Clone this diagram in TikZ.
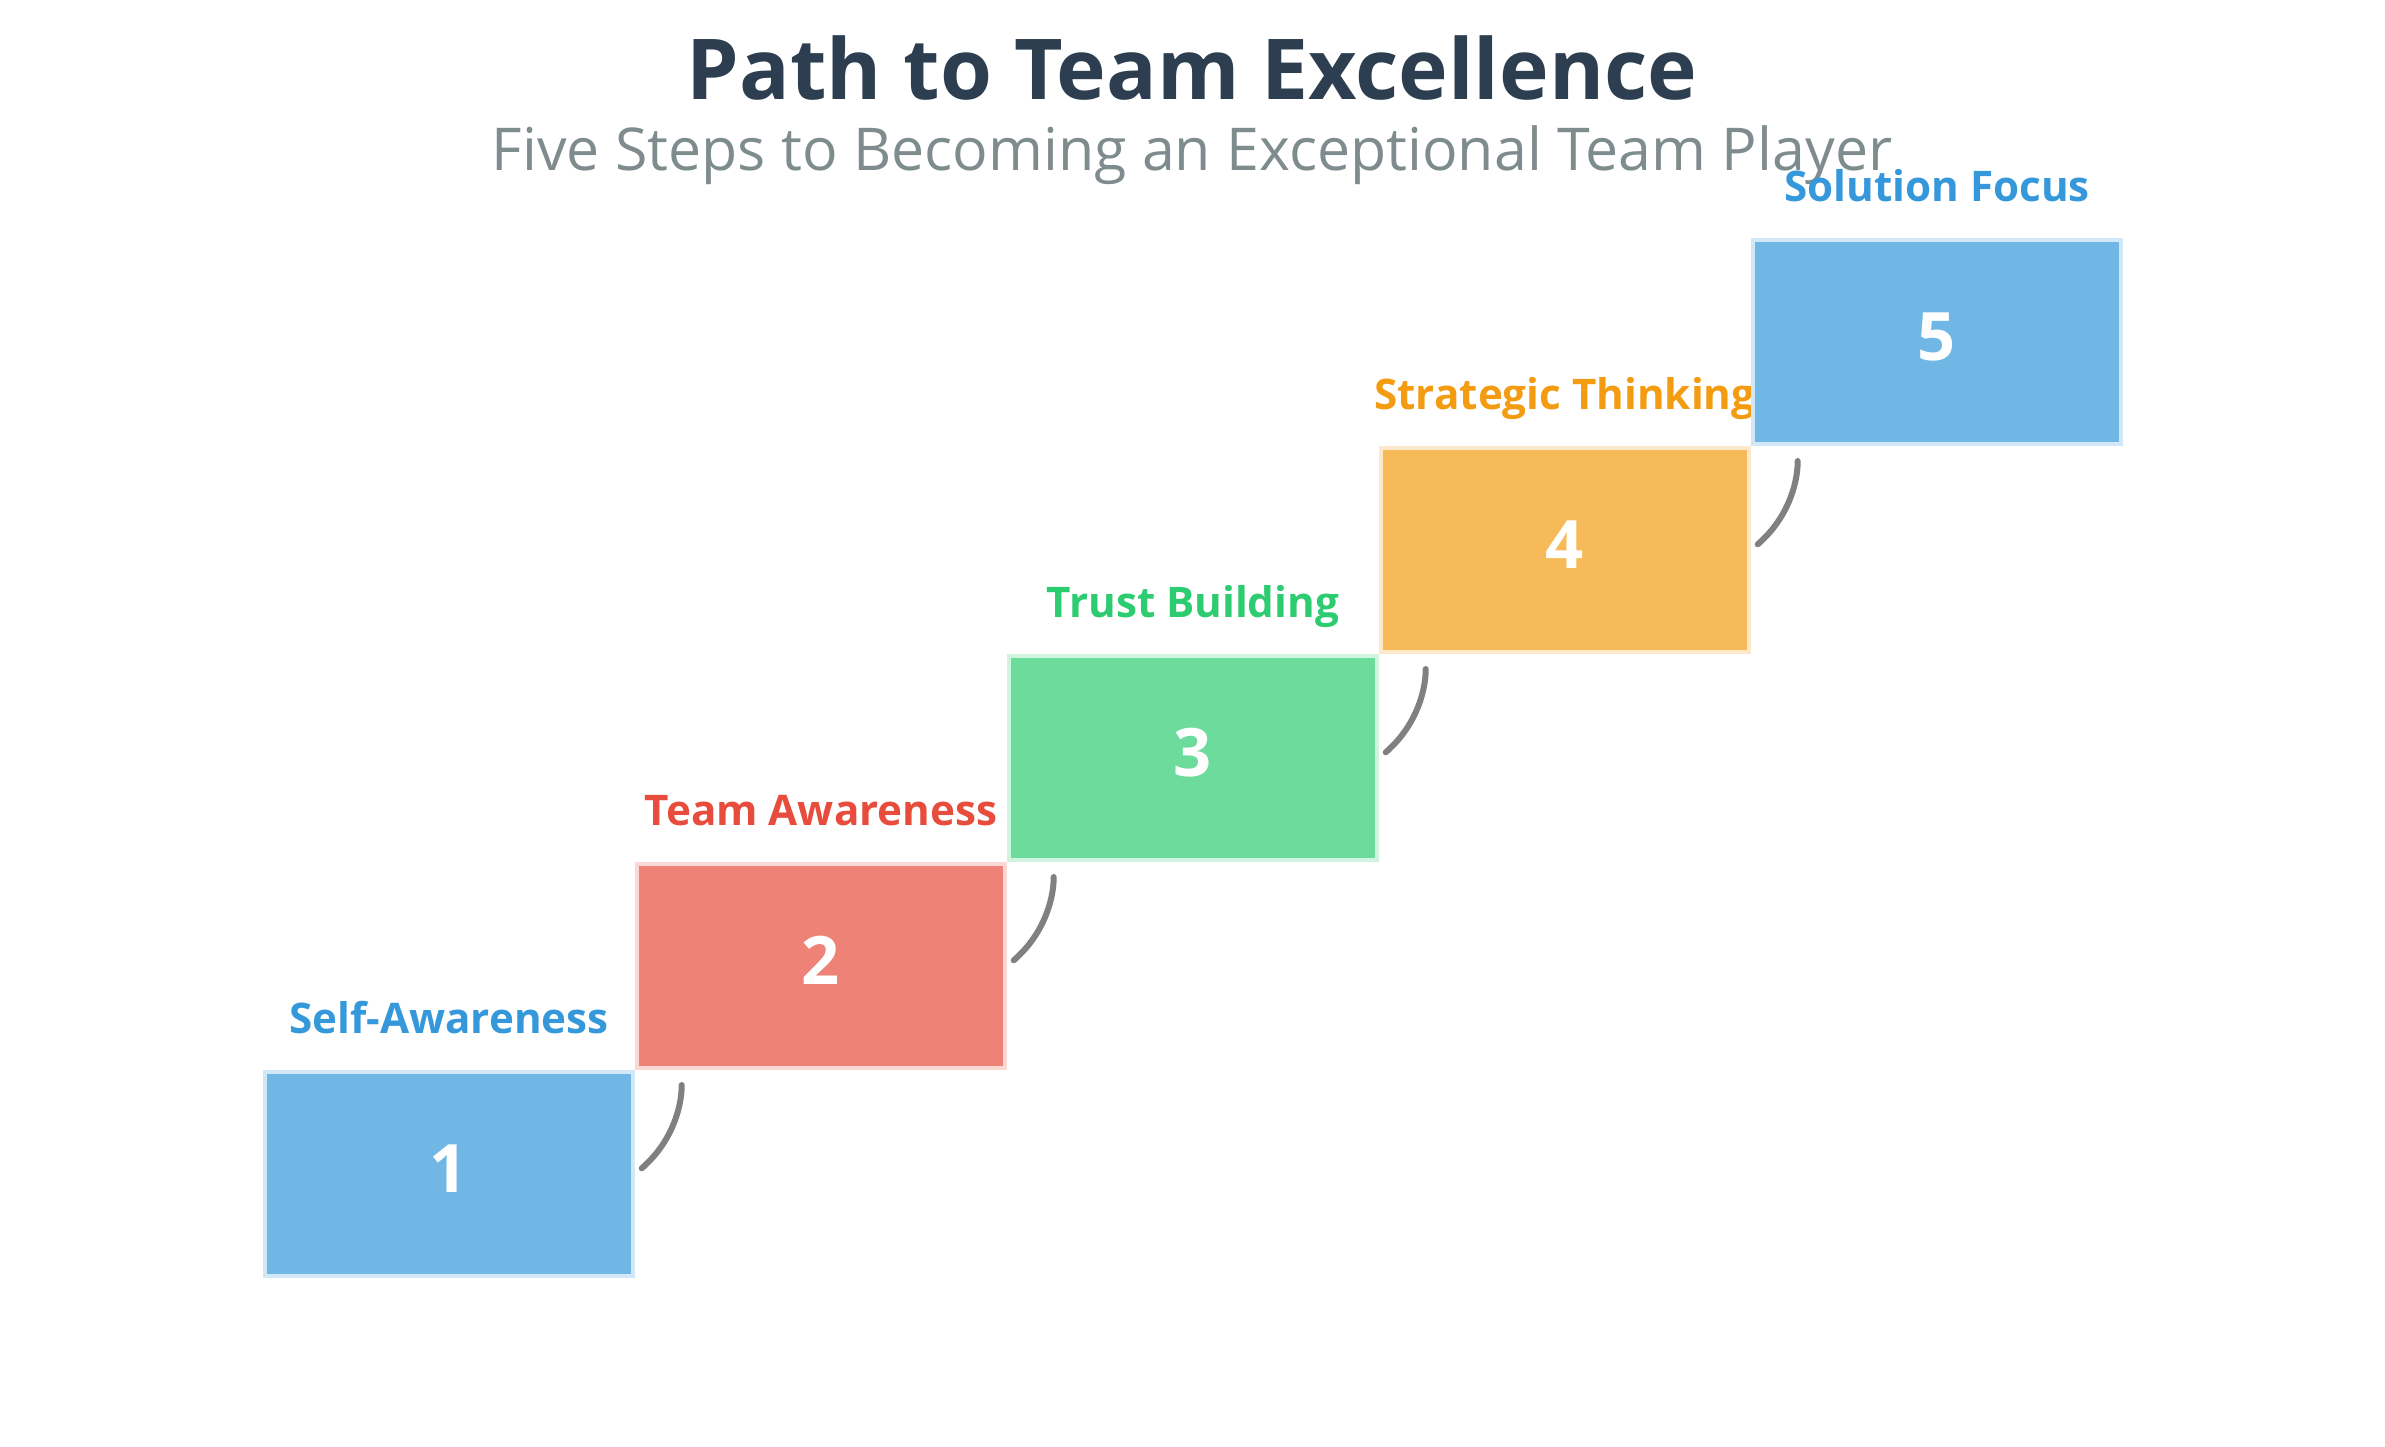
\documentclass[tikz,border=0pt]{standalone}
\usepackage{fontspec}
\setmainfont{Open Sans}
\usetikzlibrary{calc}
\definecolor{titleblue}{HTML}{2C3E50}
\definecolor{subgray}{HTML}{7F8C8D}
\definecolor{cblue}{HTML}{3498DB}
\definecolor{cred}{HTML}{E74C3C}
\definecolor{cgreen}{HTML}{2ECC71}
\definecolor{corange}{HTML}{F39C12}
\definecolor{linkgray}{HTML}{808080}
\tikzset{
  stepbox/.style={rectangle, minimum width=3.68cm, minimum height=2.04cm,
    inner sep=0pt, outer sep=0pt, line width=0.04cm,
    fill=#1!70!white, draw=#1!22!white},
  stepnum/.style={text=white, font=\fontsize{19}{22}\selectfont\bfseries, inner sep=0pt},
  steplabel/.style={text=#1, font=\fontsize{12}{14}\selectfont\bfseries, anchor=base, inner sep=0pt},
  link/.style={draw=linkgray, line width=0.06cm, line cap=round}
}
\begin{document}
\begin{tikzpicture}
\useasboundingbox (0,0) rectangle (23.85,-14.46);
% title block
\node[anchor=base, text=titleblue, font=\fontsize{23.9}{28}\selectfont\bfseries, inner sep=0pt] (title) at (11.92,-0.99) {Path to Team Excellence};
\node[anchor=base, text=subgray, font=\fontsize{16.8}{20}\selectfont, inner sep=0pt] (subtitle) at (11.92,-1.70) {Five Steps to Becoming an Exceptional Team Player};
% the staircase of steps
\foreach \i/\c/\t in {1/cblue/Self-Awareness, 2/cred/Team Awareness, 3/cgreen/Trust Building, 4/corange/Strategic Thinking, 5/cblue/Solution Focus} {
  \node[stepbox=\c] (b\i) at ({4.49+3.72*(\i-1)}, {-11.735+2.08*(\i-1)}) {};
  \node[stepnum] (n\i) at ($(b\i.center)+(0,0.05)$) {\i};
  \node[steplabel=\c] (l\i) at ({4.49+3.72*(\i-1)}, {-10.33+2.08*(\i-1)}) {\t};
}
% curved links between consecutive steps
\foreach \i/\j in {1/2, 2/3, 3/4, 4/5} {
  \coordinate (s\i) at ($(b\i.east)+(0.087,0.052)$);
  \coordinate (e\i) at ($(b\j.south west)+(0.447,-0.175)$);
  \draw[link] (s\i) .. controls ($(s\i)+(0.283,0.243)$) and ($(e\i)+(0,-0.25)$) .. (e\i);
}
\end{tikzpicture}
\end{document}
